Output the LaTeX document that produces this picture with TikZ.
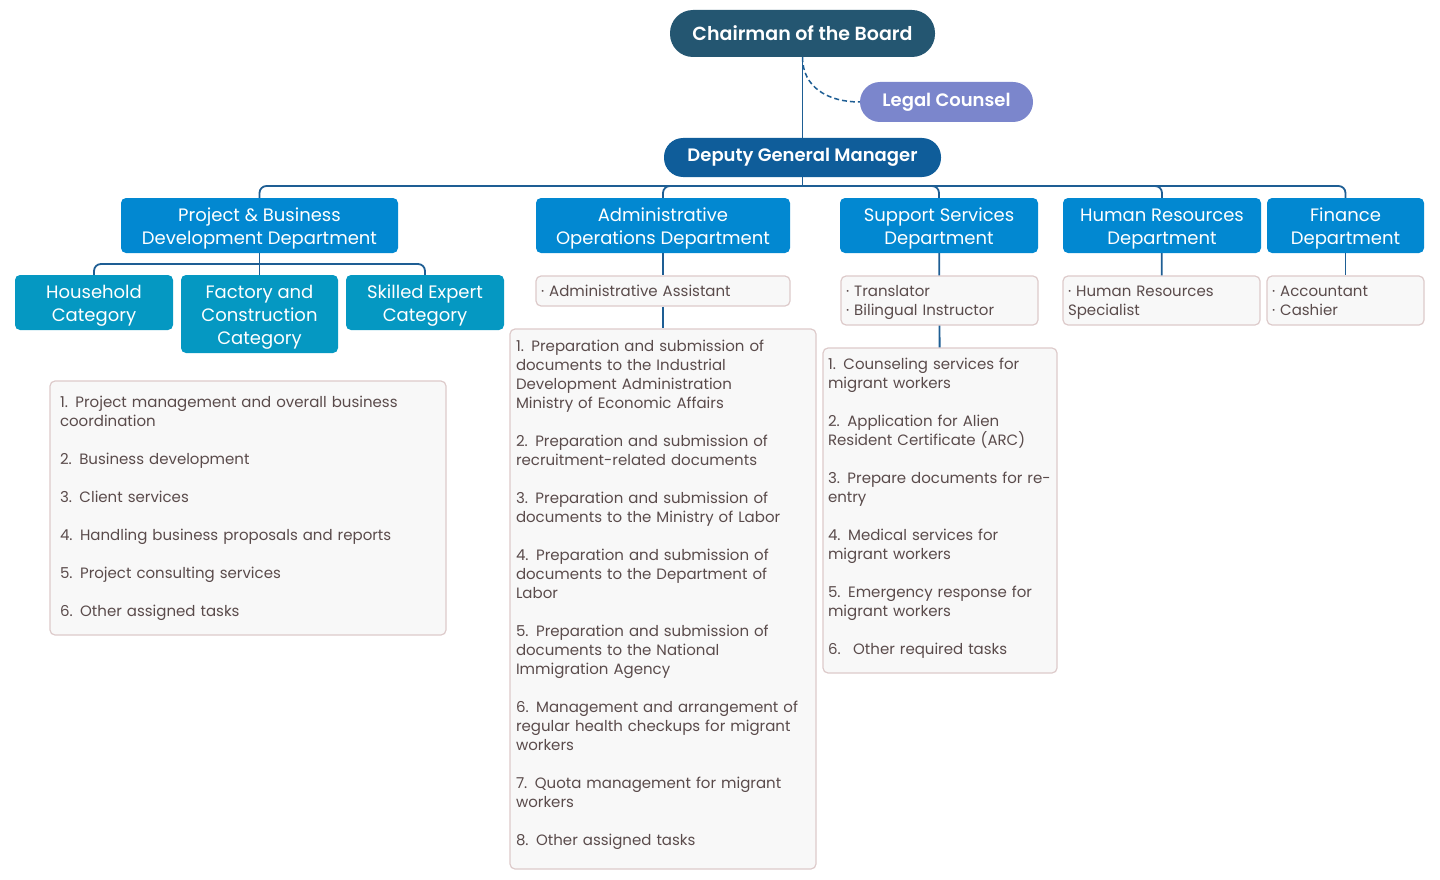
\documentclass[tikz,border=0pt]{standalone}
\usepackage{fontspec}
\setmainfont{Poppins}[BoldFont={Poppins SemiBold}]
\usetikzlibrary{positioning}
\definecolor{chaircol}{HTML}{245671}
\definecolor{legalcol}{HTML}{7B86CC}
\definecolor{dgmcol}{HTML}{0F5D9A}
\definecolor{deptcol}{HTML}{0288D1}
\definecolor{catcol}{HTML}{0598C2}
\definecolor{linecol}{HTML}{1E5E94}
\definecolor{boxfill}{HTML}{F8F8F8}
\definecolor{boxline}{HTML}{DDCACA}
\definecolor{boxtext}{HTML}{5A4B4B}
\newcommand\dstrut{\rule{0pt}{19pt}}
\tikzset{pill/.style={rounded corners=19, text=white, inner sep=0pt, font=\bfseries\fontsize{19}{23}\selectfont}}
\tikzset{dept/.style={fill=deptcol, rounded corners=5, text=white, align=center, inner sep=0pt, minimum height=55, font=\fontsize{18}{23}\selectfont}}
\tikzset{cat/.style={dept, fill=catcol}}
\tikzset{duty/.style={fill=boxfill, draw=boxline, line width=1.2, rounded corners=5, text=boxtext, align=left, inner xsep=5, inner ysep=0pt, font=\fontsize{15}{19}\selectfont}}
\tikzset{conn/.style={draw=linecol, line width=1.8}}

\begin{document}
\begin{tikzpicture}[x=1pt,y=-1pt]
   \useasboundingbox (0,0) rectangle (1440,880);
   % top of the chart
   \node[pill, fill=chaircol, rounded corners=23, minimum width=265, minimum height=47] (chair) at (802.5,33.5) {Chairman of the Board};
   \node[pill, fill=legalcol, rounded corners=20, minimum width=173, minimum height=40, font=\bfseries\fontsize{18}{22}\selectfont] (legal) at (946.5,102) {Legal Counsel};
   \node[pill, fill=dgmcol, minimum width=277, minimum height=39, font=\bfseries\fontsize{18}{22}\selectfont] (dgm) at (802.5,157.5) {Deputy General Manager};
   \draw[conn] (chair) -- (dgm);
   \draw[conn, line width=1.5, dash pattern=on 5pt off 3pt] (chair.south) .. controls +(0,30) and +(-32,0) .. (legal.west);

   % departments
   \node[dept, minimum width=277] (pbd) at (259.5,225.5) {\dstrut Project \& Business\\Development Department};
   \node[dept, minimum width=254] (aod) at (663,225.5) {\dstrut Administrative\\Operations Department};
   \node[dept, minimum width=198] (ssd) at (939,225.5) {\dstrut Support Services\\Department};
   \node[dept, minimum width=198] (hrd) at (1162,225.5) {\dstrut Human Resources\\Department};
   \node[dept, minimum width=157] (fin) at (1345.5,225.5) {\dstrut Finance\\Department};
   \coordinate (bus) at (802.5,186);
   \draw[conn] (dgm) -- (bus);
   \foreach \d in {pbd,aod,ssd,hrd,fin}
     \draw[conn, rounded corners=7] (bus) -| (\d.north);

   % categories
   \node[cat, minimum width=158] (hh) at (94,302.5) {\dstrut Household\\Category};
   \node[cat, minimum width=157, minimum height=78] (fc) at (259.5,314) {\dstrut Factory and\\Construction\\Category};
   \node[cat, minimum width=158] (se) at (425,302.5) {\dstrut Skilled Expert\\Category};
   \coordinate (catbus) at (259.5,264);
   \draw[conn] (pbd) -- (catbus);
   \foreach \c in {hh,fc,se}
     \draw[conn, rounded corners=7] (catbus) -| (\c.north);

   % staff
   \node[duty, text width=244, minimum height=30] (aodr) at (663,291) {· Administrative Assistant};
   \node[duty, text width=187, minimum height=49] (ssdr) at (939.5,300.5) {\rule{0pt}{16pt}· Translator\\· Bilingual Instructor};
   \node[duty, text width=187, minimum height=49] (hrdr) at (1161.5,300.5) {\rule{0pt}{15pt}· Human Resources\\Specialist};
   \node[duty, text width=147, minimum height=49] (finr) at (1345.5,300.5) {· Accountant\\· Cashier};
   \draw[conn] (aod) -- (aodr);
   \draw[conn] (ssd) -- (ssdr);
   \draw[conn] (hrd) -- (hrdr);
   \draw[conn] (fin) -- (finr);

   % tasks
   \node[duty, inner xsep=10, text width=376, minimum height=254] (pbdt) at (248,508) {1. Project management and overall business\\coordination\\[19pt]
     2. Business development\\[19pt]
     3. Client services\\[19pt]
     4. Handling business proposals and reports\\[19pt]
     5. Project consulting services\\[19pt]
     6. Other assigned tasks};
   \node[duty, inner xsep=6, text width=294, minimum height=540] (aodt) at (663,599) {1. Preparation and submission of\\documents to the Industrial\\Development Administration\\Ministry of Economic Affairs\\[19pt]
     2. Preparation and submission of\\recruitment-related documents\\[19pt]
     3. Preparation and submission of\\documents to the Ministry of Labor\\[19pt]
     4. Preparation and submission of\\documents to the Department of\\Labor\\[19pt]
     5. Preparation and submission of\\documents to the National\\Immigration Agency\\[19pt]
     6. Management and arrangement of\\regular health checkups for migrant\\workers\\[19pt]
     7. Quota management for migrant\\workers\\[19pt]
     8. Other assigned tasks\rule[-13pt]{0pt}{0pt}};
   \node[duty, text width=224, minimum height=325] (ssdt) at (940,510.5) {1. Counseling services for\\migrant workers\\[19pt]
     2. Application for Alien\\Resident Certificate (ARC)\\[19pt]
     3. Prepare documents for re-\\entry\\[19pt]
     4. Medical services for\\migrant workers\\[19pt]
     5. Emergency response for\\migrant workers\\[19pt]
     6.~ Other required tasks\rule[-8pt]{0pt}{0pt}};
   \draw[conn] (aodr) -- (aodt);
   \draw[conn] (ssdr) -- (ssdt);
\end{tikzpicture}
\end{document}
